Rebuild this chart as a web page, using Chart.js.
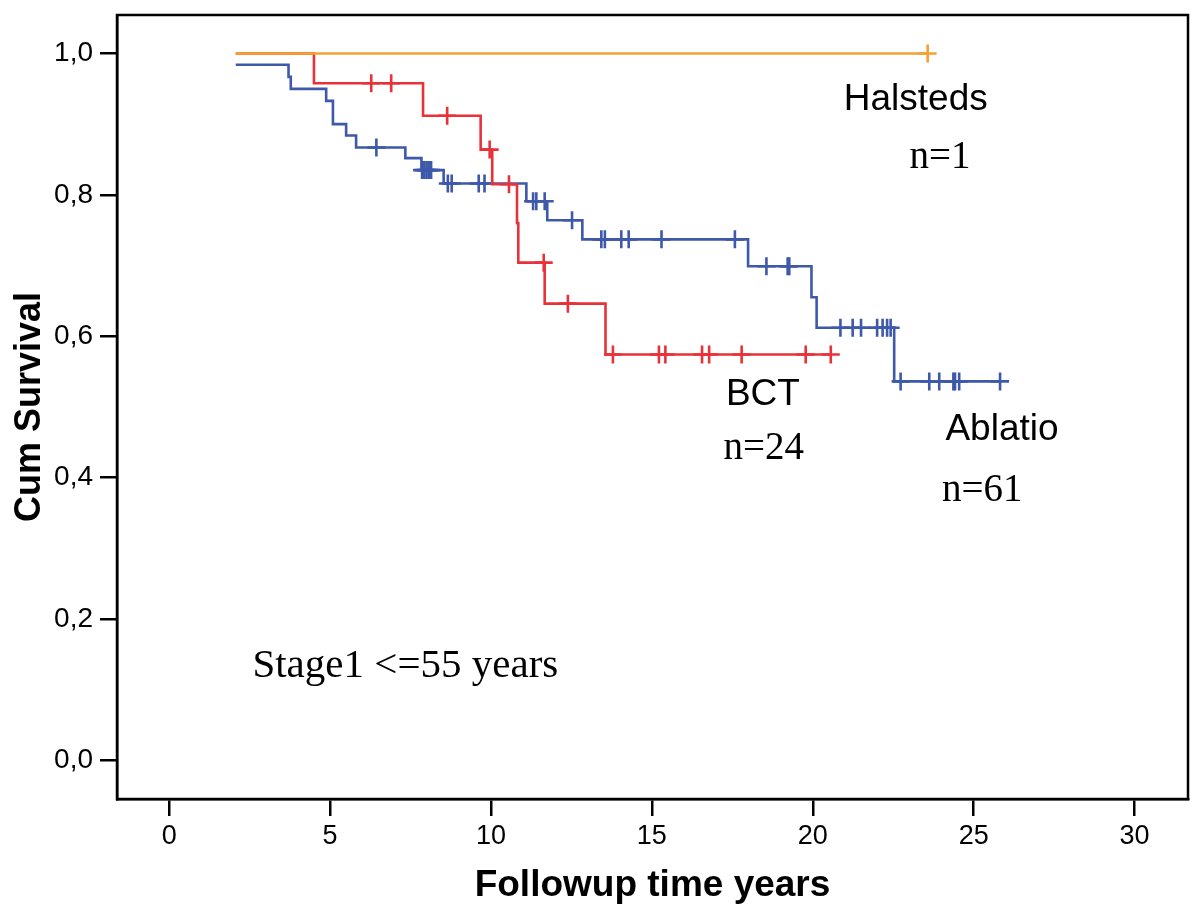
<!DOCTYPE html>
<html>
<head>
<meta charset="utf-8">
<script src="https://cdn.jsdelivr.net/npm/chart.js@4"></script>
<style>
  html, body { margin: 0; padding: 0; background: #fff; }
  canvas { display: block; }
</style>
</head>
<body>
<canvas id="km" width="1200" height="910"></canvas>
<script>
// step points (time, cumulative survival)
const halstedTime = [2.07, 23.57];
const halstedSurv = [1.0, 1.0];
const halstedCens = [23.57];

const bctTime = [2.07, 4.50, 7.89, 9.68, 10.04, 10.81, 10.85, 11.67, 13.56, 20.56];
const bctSurv = [1.0, 0.958, 0.912, 0.864, 0.815, 0.760, 0.704, 0.646, 0.574, 0.574];
const bctCens = [6.28, 6.90, 8.64, 9.96, 10.56, 11.64, 12.39, 13.79, 15.22, 15.42, 16.56, 16.78, 17.79, 19.78, 20.56];

const ablatioTime = [2.07, 3.71, 3.78, 4.88, 5.09, 5.50, 5.81, 7.34, 7.84, 8.53, 11.10, 11.75, 12.84, 17.99, 19.96, 20.12, 22.53, 25.82];
const ablatioSurv = [0.984, 0.967, 0.950, 0.933, 0.900, 0.884, 0.867, 0.852, 0.835, 0.816, 0.791, 0.764, 0.737, 0.699, 0.655, 0.612, 0.536, 0.536];
const ablatioCens = [6.44, 7.86, 7.93, 8.00, 8.07, 8.14, 8.66, 8.78, 9.62, 9.80, 11.31, 11.41, 11.67, 12.52,
  13.43, 13.54, 14.05, 14.28, 15.30, 17.58, 18.56, 19.22, 19.27, 20.86, 21.24, 21.50, 22.00, 22.17, 22.31, 22.42,
  22.73, 23.62, 23.93, 24.37, 24.42, 24.55, 25.82];

const xTicks = [0, 5, 10, 15, 20, 25, 30];
const yTicks = [0, 0.2, 0.4, 0.6, 0.8, 1.0];

// text placed in data units
const notes = [
  { text: 'Halsteds', x: 23.2, y: 0.934, font: '37px "Liberation Sans"' },
  { text: 'n=1', x: 23.95, y: 0.853, font: '39px "Liberation Serif"' },
  { text: 'BCT', x: 18.45, y: 0.517, font: '37px "Liberation Sans"' },
  { text: 'n=24', x: 18.48, y: 0.441, font: '39px "Liberation Serif"' },
  { text: 'Ablatio', x: 25.88, y: 0.468, font: '37px "Liberation Sans"' },
  { text: 'n=61', x: 25.27, y: 0.381, font: '39px "Liberation Serif"' },
  { text: 'Stage1 <=55 years', x: 7.34, y: 0.133, font: '41px "Liberation Serif"' }
];

const ORANGE = 'rgb(245,160,50)';
const RED = 'rgb(232,50,58)';
const BLUE = 'rgb(62,88,170)';

function steps(ts, ss) {
  return ts.map((t, i) => ({ x: t, y: ss[i] }));
}
function survAt(ts, ss, t) {
  let s = ss[0];
  for (let i = 0; i < ts.length; i++) if (ts[i] <= t) s = ss[i];
  return s;
}
function cens(ts, ss, cs) {
  return cs.map(t => ({ x: t, y: survAt(ts, ss, t) }));
}
function curve(pts, color) {
  return { data: pts, borderColor: color, borderWidth: 2.6, stepped: 'before', pointRadius: 0, fill: false };
}
function marks(pts, color) {
  return { data: pts, borderColor: color, borderWidth: 2.6, showLine: false,
    pointStyle: 'cross', pointRadius: 9, pointBorderWidth: 2.6, pointBorderColor: color };
}

const boxPlugin = {
  id: 'box',
  afterDatasetsDraw(chart) {
    const { ctx, chartArea: a, scales } = chart;
    ctx.save();
    ctx.strokeStyle = '#000';
    ctx.lineWidth = 2.5;
    ctx.strokeRect(a.left, a.top, a.right - a.left, a.bottom - a.top);
    ctx.fillStyle = '#000';
    ctx.textAlign = 'center';
    ctx.textBaseline = 'middle';
    notes.forEach(n => {
      ctx.font = n.font;
      ctx.fillText(n.text, scales.x.getPixelForValue(n.x), scales.y.getPixelForValue(n.y));
    });
    ctx.restore();
  }
};

new Chart(document.getElementById('km'), {
  type: 'line',
  data: {
    datasets: [
      curve(steps(halstedTime, halstedSurv), ORANGE),
      marks(cens(halstedTime, halstedSurv, halstedCens), ORANGE),
      curve(steps(bctTime, bctSurv), RED),
      marks(cens(bctTime, bctSurv, bctCens), RED),
      curve(steps(ablatioTime, ablatioSurv), BLUE),
      marks(cens(ablatioTime, ablatioSurv, ablatioCens), BLUE)
    ]
  },
  options: {
    responsive: false,
    animation: false,
    layout: { padding: { top: 15, right: 12, left: 0, bottom: 0 } },
    plugins: { legend: { display: false }, tooltip: { enabled: false } },
    scales: {
      x: {
        type: 'linear',
        min: -1.62,
        max: 31.66,
        afterBuildTicks: s => { s.ticks = xTicks.map(v => ({ value: v })); },
        afterFit: s => { s.height = 111; s.paddingLeft = 0; s.paddingRight = 0; },
        grid: { drawOnChartArea: false, drawTicks: true, tickLength: 17, color: '#000', lineWidth: 2.5 },
        border: { display: true, color: '#000', width: 2.5 },
        ticks: { color: '#000', font: { family: 'Liberation Sans', size: 27 }, padding: 4, maxRotation: 0 },
        title: { display: true, text: 'Followup time years', color: '#000',
          font: { family: 'Liberation Sans', size: 37, weight: 'bold' }, padding: { top: 0, bottom: 2 } }
      },
      y: {
        type: 'linear',
        min: -0.055,
        max: 1.0545,
        afterBuildTicks: s => { s.ticks = yTicks.map(v => ({ value: v })); },
        afterFit: s => { s.width = 117; s.paddingTop = 0; s.paddingBottom = 0; },
        grid: { drawOnChartArea: false, drawTicks: true, tickLength: 17, color: '#000', lineWidth: 2.5 },
        border: { display: true, color: '#000', width: 2.5 },
        ticks: { color: '#000', font: { family: 'Liberation Sans', size: 28 }, padding: 7,
          callback: v => v.toFixed(1).replace('.', ',') },
        title: { display: true, text: 'Cum Survival', color: '#000',
          font: { family: 'Liberation Sans', size: 36, weight: 'bold' }, padding: { top: 8, bottom: 0 } }
      }
    }
  },
  plugins: [boxPlugin]
});
</script>
</body>
</html>
